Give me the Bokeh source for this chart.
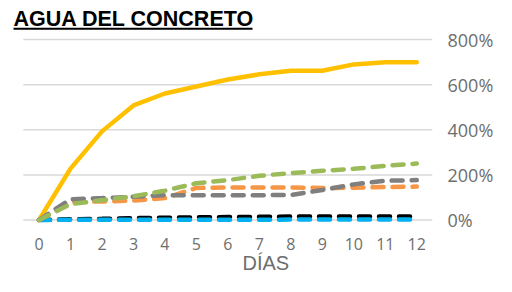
from bokeh.plotting import figure
from bokeh.models import Range1d, FixedTicker, LinearAxis, Label, BoxAnnotation, Title
from bokeh.embed import file_html
from bokeh.resources import INLINE

dias = list(range(13))
amarillo = [0, 228, 393, 508, 561, 592, 623, 646, 662, 662, 690, 700, 700]
verde = [0, 70, 88, 105, 130, 163, 177, 196, 208, 218, 227, 240, 250]
naranja = [0, 80, 82, 86, 97, 142, 144, 144, 144, 142, 143, 146, 148]
gris = [0, 92, 97, 103, 110, 110, 110, 110, 111, 133, 158, 174, 177]
negro = [0, 3, 5, 8, 10, 12, 13, 14, 15, 15, 15, 16, 16]
azul = [0, 1, 1, 1, 1, 1, 1, 1, 2, 2, 2, 2, 2]
y_ticks = [0, 200, 400, 600, 800]
y_labels = ["0%", "200%", "400%", "600%", "800%"]
titulo = "AGUA DEL CONCRETO"
eje_x = "DÍAS"

TXT = "#6E6E6E"

# the frame also covers the title area (annotations inside the frame are not clipped)
p = figure(width=496, height=276, output_backend="svg", toolbar_location=None,
           x_range=Range1d(-1.224, 12.5), y_range=Range1d(-11.1, 973.3),
           min_border_left=0, min_border_right=60, min_border_top=0, min_border_bottom=54,
           y_axis_location=None)
p.outline_line_color = None
p.background_fill_color = "white"
p.border_fill_color = "white"
p.xgrid.visible = False
p.ygrid.visible = False

# horizontal gridlines over the category span
n = len(dias)
p.segment(x0=[-0.5] * len(y_ticks), x1=[n - 0.5] * len(y_ticks), y0=y_ticks, y1=y_ticks,
          line_color="#D9D9D9", line_width=1.5)

xa = p.xaxis[0]
xa.ticker = FixedTicker(ticks=dias)
xa.axis_line_color = None
xa.major_tick_line_color = None
xa.minor_tick_line_color = None
xa.major_tick_out = 0
xa.major_tick_in = 0
xa.minor_tick_out = 0
xa.minor_tick_in = 0
xa.major_label_text_font = "Open Sans"
xa.major_label_text_font_size = "16px"
xa.major_label_text_color = TXT
xa.major_label_standoff = 15

ya = LinearAxis(ticker=FixedTicker(ticks=y_ticks),
                major_label_overrides={t: l for t, l in zip(y_ticks, y_labels)})
ya.axis_line_color = None
ya.major_tick_line_color = None
ya.minor_tick_line_color = None
ya.major_tick_out = 0
ya.major_tick_in = 0
ya.minor_tick_out = 0
ya.minor_tick_in = 0
ya.major_label_text_font = "Open Sans"
ya.major_label_text_font_size = "18px"
ya.major_label_text_color = TXT
ya.major_label_standoff = 15
p.add_layout(ya, "right")

dash = "11 9"
p.line(dias, amarillo, line_color="#FFC000", line_width=4.5, line_cap="round", line_join="round")
p.line(dias, negro, line_color="#000000", line_width=4.5, line_dash=dash, line_cap="round")
p.line(dias, azul, line_color="#00B0F0", line_width=4.5, line_dash=dash, line_cap="round")
p.line(dias, naranja, line_color="#F79646", line_width=4.5, line_dash=dash, line_cap="round")
p.line(dias, gris, line_color="#7F7F7F", line_width=4.5, line_dash=dash, line_cap="round")
p.line(dias, verde, line_color="#9BBB59", line_width=4.5, line_dash=dash, line_cap="round")

p.add_layout(Label(x=13, y=215.5, x_units="screen", y_units="screen", text=titulo,
                   text_font="Liberation Sans", text_font_style="bold", text_font_size="21.5px",
                   text_color="#000000", text_baseline="top"))
p.add_layout(BoxAnnotation(left=13, right=252, top=194.8, bottom=192.8,
                           left_units="screen", right_units="screen",
                           top_units="screen", bottom_units="screen",
                           fill_color="#000000", fill_alpha=1, line_color=None))

p.add_layout(Title(text=eje_x, align="left", offset=242, standoff=-5,
                   text_font="Liberation Sans", text_font_style="normal", text_font_size="20px",
                   text_color=TXT), "below")

open("out.html", "w").write(file_html(p, INLINE))
